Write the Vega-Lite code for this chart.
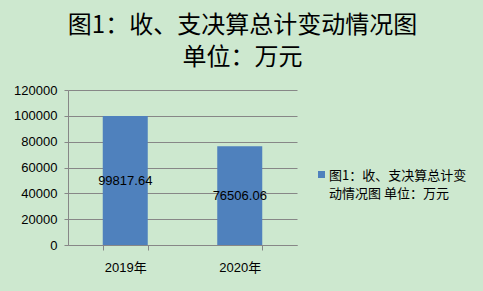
{
  "$schema": "https://vega.github.io/schema/vega-lite/v6.json",
  "width": 229,
  "height": 155,
  "autosize": {"type": "none"},
  "padding": {"left": 68, "top": 90, "right": 186, "bottom": 46},
  "background": "#cde8cf",
  "title": {
    "text": ["图1：收、支决算总计变动情况图", "单位：万元"],
    "anchor": "middle",
    "dx": 60,
    "offset": 14,
    "fontSize": 24,
    "font": "Noto Sans CJK SC",
    "fontWeight": "normal",
    "color": "#000000",
    "lineHeight": 32
  },
  "data": {
    "values": [
      {"year": "2019年", "value": 99817.64, "series": "图1：收、支决算总计变动情况图 单位：万元"},
      {"year": "2020年", "value": 76506.06, "series": "图1：收、支决算总计变动情况图 单位：万元"}
    ]
  },
  "encoding": {
    "x": {
      "field": "year",
      "type": "nominal",
      "scale": {"paddingInner": 0.607, "paddingOuter": 0.3035},
      "axis": {
        "title": null,
        "labelAngle": 0,
        "labelFont": "Liberation Sans, Noto Sans CJK SC",
        "labelFontSize": 13,
        "labelColor": "#000000",
        "labelPadding": 11,
        "tickBand": "extent",
        "tickSize": 5,
        "tickColor": "#878787",
        "domainColor": "#878787",
        "grid": false
      }
    }
  },
  "layer": [
    {
      "mark": {"type": "bar", "color": "#4f81bd"},
      "encoding": {
        "y": {
          "field": "value",
          "type": "quantitative",
          "scale": {"domain": [0, 120000]},
          "axis": {
            "title": null,
            "values": [0, 20000, 40000, 60000, 80000, 100000, 120000],
            "format": "d",
            "labelFont": "Liberation Sans",
            "labelFontSize": 13,
            "labelColor": "#000000",
            "labelPadding": 7,
            "labelOverlap": false,
            "tickSize": 4,
            "tickColor": "#878787",
            "domainColor": "#878787",
            "gridColor": "#878787",
            "gridWidth": 1
          }
        },
        "color": {
          "field": "series",
          "type": "nominal",
          "scale": {"range": ["#4f81bd"]},
          "legend": {
            "title": null,
            "orient": "none",
            "legendX": 247,
            "legendY": 78,
            "symbolType": "square",
            "symbolSize": 49,
            "symbolStrokeWidth": 0,
            "labelFont": "Noto Sans CJK SC",
            "labelFontSize": 13,
            "labelColor": "#000000",
            "labelLimit": 300,
            "labelBaseline": "top",
            "labelOffset": 1,
            "labelExpr": "['图1：收、支决算总计变', '动情况图 单位：万元']",
            "encode": {"labels": {"update": {"dy": {"value": -5}, "lineHeight": {"value": 18}}}}
          }
        }
      }
    },
    {
      "mark": {"type": "text", "font": "Liberation Sans", "fontSize": 13, "color": "#000000"},
      "encoding": {
        "y": {
          "field": "value",
          "type": "quantitative",
          "scale": {"domain": [0, 240000]},
          "axis": null
        },
        "text": {"field": "value", "type": "quantitative", "format": ".2f"}
      }
    }
  ],
  "resolve": {"scale": {"y": "independent"}},
  "config": {"view": {"stroke": null}}
}
